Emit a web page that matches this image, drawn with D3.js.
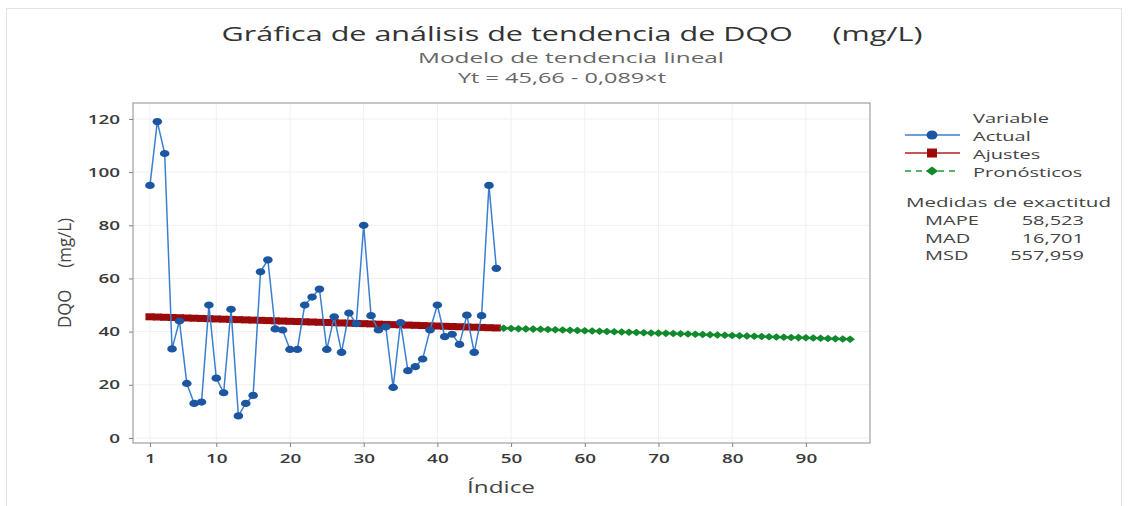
<!DOCTYPE html>
<html><head><meta charset="utf-8">
<script src="https://cdn.jsdelivr.net/npm/d3@7"></script>
<style>body{margin:0;background:#fff}svg{display:block}</style>
</head><body>
<svg id="c" width="1138" height="506"></svg>
<script>
// ---- data ----
const actualValues = [95,119,107,33.5,44,20.5,13,13.5,50,22.5,17,48.4,8.3,13,16,62.5,67,41,40.6,33.3,33.3,50,53,56,33.3,45.6,32.2,47,43,80,46,40.6,41.8,19,43.4,25.3,26.8,29.7,40.6,50,38.1,39,35.2,46.2,32.2,46,95,63.8];
const fitValues = [45.57,45.48,45.39,45.30,45.22,45.13,45.04,44.95,44.86,44.77,44.68,44.59,44.50,44.41,44.33,44.24,44.15,44.06,43.97,43.88,43.79,43.70,43.61,43.52,43.44,43.35,43.26,43.17,43.08,42.99,42.90,42.81,42.72,42.63,42.55,42.46,42.37,42.28,42.19,42.10,42.01,41.92,41.83,41.74,41.66,41.57,41.48,41.39];
const forecastValues = [41.30,41.21,41.12,41.03,40.94,40.85,40.77,40.68,40.59,40.50,40.41,40.32,40.23,40.14,40.05,39.96,39.88,39.79,39.70,39.61,39.52,39.43,39.34,39.25,39.16,39.07,38.99,38.90,38.81,38.72,38.63,38.54,38.45,38.36,38.27,38.18,38.10,38.01,37.92,37.83,37.74,37.65,37.56,37.47,37.38,37.29,37.21,37.12];
const xTickValues = [1,10,20,30,40,50,60,70,80,90];
const yTickValues = [0,20,40,60,80,100,120];
const legendLabels = ["Actual","Ajustes","Pronósticos"];
const accuracyLabels = ["MAPE","MAD","MSD"];
const accuracyValues = ["58,523","16,701","557,959"];

const svg = d3.select("#c");
const font = "'Open Sans', 'Noto Sans', sans-serif";
function stretch(sel, sx){
  sel.each(function(){
    const w = this.getComputedTextLength();
    d3.select(this).attr("textLength", w*sx).attr("lengthAdjust","spacingAndGlyphs");
  });
  return sel;
}
function fitW(sel, w){
  return sel.attr("textLength", w).attr("lengthAdjust","spacingAndGlyphs");
}
const L=133,R=870,T=103,B=443;
const x = d3.scaleLinear().domain([-1.3,98.7]).range([L,R]);
const y = d3.scaleLinear().domain([-1.9,126]).range([B,T]);

// outer faint border
svg.append("rect").attr("x",6.5).attr("y",8.5).attr("width",1115).attr("height",510)
  .attr("fill","none").attr("stroke","#e3e3e3");

// grid
const g = svg.append("g");
g.selectAll(".vg").data(xTickValues).enter().append("line")
  .attr("x1",d=>x(d)).attr("x2",d=>x(d)).attr("y1",T).attr("y2",B)
  .attr("stroke","#f0f0f0").attr("stroke-width",1);
g.selectAll(".hg").data(yTickValues).enter().append("line")
  .attr("y1",d=>y(d)).attr("y2",d=>y(d)).attr("x1",L).attr("x2",R)
  .attr("stroke","#f0f0f0").attr("stroke-width",1);

// frame
svg.append("rect").attr("x",L).attr("y",T).attr("width",R-L).attr("height",B-T)
  .attr("fill","none").attr("stroke","#a0a0a0").attr("stroke-width",1.2);

// axes
const xa = svg.append("g").attr("transform",`translate(0,${B})`)
  .call(d3.axisBottom(x).tickValues(xTickValues).tickSize(4).tickPadding(7));
const ya = svg.append("g").attr("transform",`translate(${L},0)`)
  .call(d3.axisLeft(y).tickValues(yTickValues).tickSize(4).tickPadding(9));
[xa,ya].forEach(a=>{
  a.select(".domain").remove();
  a.selectAll(".tick line").attr("stroke","#808080");
  a.selectAll("text").attr("font-family",font).attr("font-size",13).attr("font-weight",600).attr("fill","#3a3a3a");
  stretch(a.selectAll("text"), 1.45);
});

// fits (red)
const fitData = fitValues.map((v,i)=>({t:i+1,v}));
const actData = actualValues.map((v,i)=>({t:i+1,v}));
const fcData = forecastValues.map((v,i)=>({t:i+49,v}));
const line = d3.line().x(d=>x(d.t)).y(d=>y(d.v));

svg.append("path").datum(fitData).attr("d",line).attr("fill","none")
  .attr("stroke","#9b0a0a").attr("stroke-width",2);
svg.selectAll(".fm").data(fitData).enter().append("rect")
  .attr("x",d=>x(d.t)-4.5).attr("y",d=>y(d.v)-3.5).attr("width",9).attr("height",7)
  .attr("fill","#9b0a0a");

// forecasts (green)
svg.append("path").datum(fcData).attr("d",line).attr("fill","none")
  .attr("stroke","#1f9a3a").attr("stroke-width",1.5).attr("stroke-dasharray","5,3");
svg.selectAll(".gm").data(fcData).enter().append("path")
  .attr("transform",d=>`translate(${x(d.t)},${y(d.v)}) scale(1.3,1)`)
  .attr("d",d3.symbol(d3.symbolDiamond2,36)()).attr("fill","#118a2e");

// actual (blue)
svg.append("path").datum(actData).attr("d",line).attr("fill","none")
  .attr("stroke","#3a7fd0").attr("stroke-width",1.5);
svg.selectAll(".am").data(actData).enter().append("ellipse")
  .attr("cx",d=>x(d.t)).attr("cy",d=>y(d.v)).attr("rx",4.8).attr("ry",3.6)
  .attr("fill","#1d56a0");

// titles
fitW(svg.append("text").attr("x",572).attr("y",41).attr("text-anchor","middle")
  .attr("font-family",font).attr("font-size",20).attr("fill","#333")
  .attr("xml:space","preserve").text("Gráfica de análisis de tendencia de DQO     (mg/L)"), 701);
fitW(svg.append("text").attr("x",571).attr("y",63).attr("text-anchor","middle")
  .attr("font-family",font).attr("font-size",14).attr("fill","#666").text("Modelo de tendencia lineal"), 306);
fitW(svg.append("text").attr("x",562).attr("y",83).attr("text-anchor","middle")
  .attr("font-family",font).attr("font-size",14).attr("fill","#666").text("Yt = 45,66 - 0,089×t"), 208);

// axis labels
fitW(svg.append("text").attr("x",501).attr("y",493).attr("text-anchor","middle")
  .attr("font-family",font).attr("font-size",17).attr("fill","#444").text("Índice"), 68);
fitW(svg.append("text").attr("transform","translate(71,273) rotate(-90) scale(1,1.25)").attr("text-anchor","middle")
  .attr("font-family",font).attr("font-size",15).attr("fill","#444")
  .attr("xml:space","preserve").text("DQO     (mg/L)"), 110);

// legend
const LS = 1.6;
const lg = svg.append("g").attr("font-family",font).attr("font-size",12.5).attr("fill","#444");
stretch(lg.append("text").attr("x",973).attr("y",123).text("Variable"), LS);
const legY=[135,153,171];
const legCol=["#1d56a0","#9b0a0a","#118a2e"];
const legLine=["#3a7fd0","#b02020","#1f9a3a"];
legendLabels.forEach((lab,i)=>{
  lg.append("line").attr("x1",905).attr("x2",960).attr("y1",legY[i]).attr("y2",legY[i])
    .attr("stroke",legLine[i]).attr("stroke-width",1.5)
    .attr("stroke-dasharray",i===2?"6,5":null);
  if(i===0) lg.append("ellipse").attr("cx",932).attr("cy",legY[i]).attr("rx",5.5).attr("ry",4.5).attr("fill",legCol[i]);
  if(i===1) lg.append("rect").attr("x",927).attr("y",legY[i]-4.5).attr("width",10).attr("height",9).attr("fill",legCol[i]);
  if(i===2) lg.append("path").attr("transform",`translate(932,${legY[i]}) scale(1.4,1)`).attr("d",d3.symbol(d3.symbolDiamond2,50)()).attr("fill",legCol[i]);
  stretch(lg.append("text").attr("x",973).attr("y",legY[i]+6).text(lab), LS);
});
fitW(lg.append("text").attr("x",906).attr("y",207).text("Medidas de exactitud"), 205);
accuracyLabels.forEach((lab,i)=>{
  stretch(lg.append("text").attr("x",925).attr("y",225+i*17.5).text(lab), LS);
  stretch(lg.append("text").attr("x",1084).attr("y",225+i*17.5).attr("text-anchor","end").text(accuracyValues[i]), LS);
});
</script>
</body></html>
